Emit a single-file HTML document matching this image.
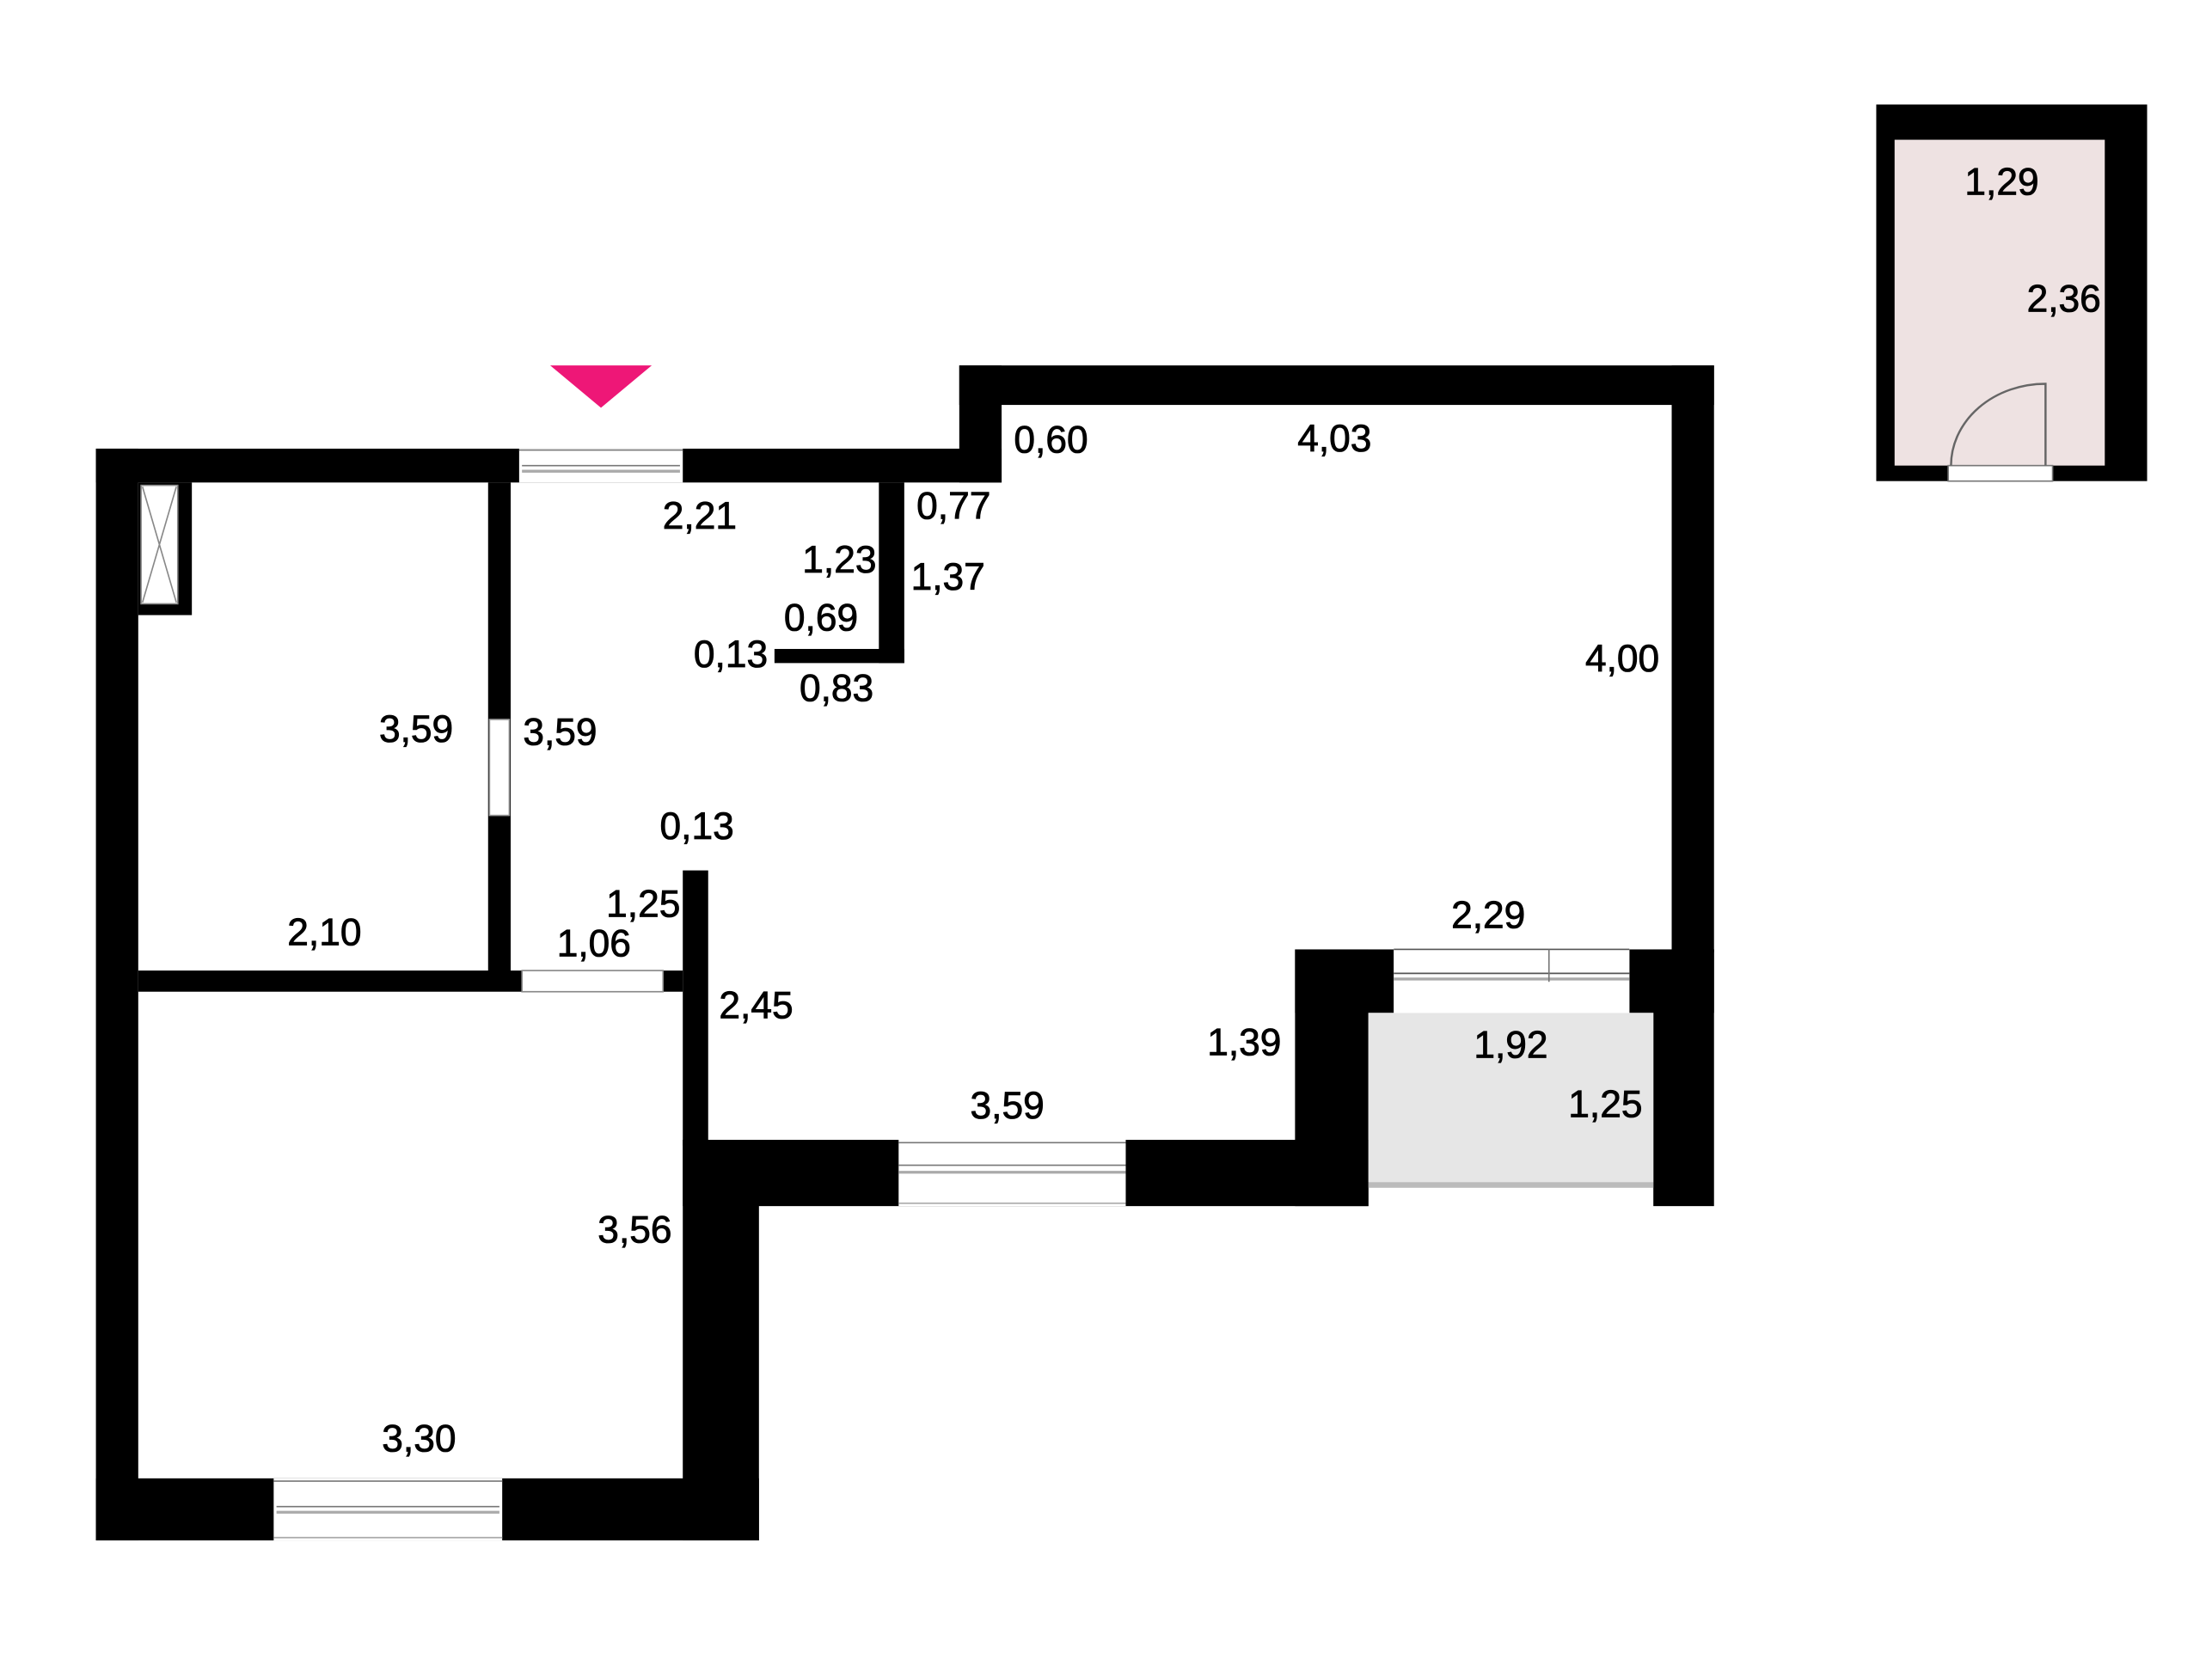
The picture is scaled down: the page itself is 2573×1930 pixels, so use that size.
<!DOCTYPE html>
<html><head><meta charset="utf-8"><style>
html,body{margin:0;padding:0;background:#fff;}
svg{display:block;}
text{font-family:"Liberation Sans",Arial,sans-serif;font-size:27px;fill:#000;stroke:#000;stroke-width:0.5px;text-anchor:middle;dominant-baseline:central;}
</style></head><body>
<svg width="2573" height="1930" viewBox="0 0 1568 1176" xmlns="http://www.w3.org/2000/svg">
<rect width="1568" height="1176" fill="#fff"/>
<rect x="1330" y="74" width="192" height="267" fill="#000"/>
<rect x="1343" y="99" width="149" height="231" fill="#eee2e2"/>
<rect x="1381" y="330" width="74" height="11" fill="#fff" stroke="#777" stroke-width="1"/>
<path d="M1383,330 A67,58 0 0 1 1450,272 L1450,330" fill="none" stroke="#666" stroke-width="1.5"/>
<polygon points="390,259 462,259 426,289" fill="#ee1777"/>
<rect x="68" y="318" width="30" height="774" fill="#000"/>
<rect x="68" y="318" width="642" height="24" fill="#000"/>
<rect x="680" y="259" width="535" height="28" fill="#000"/>
<rect x="680" y="259" width="30" height="83" fill="#000"/>
<rect x="1185" y="259" width="30" height="416" fill="#000"/>
<rect x="68" y="1048" width="470" height="44" fill="#000"/>
<rect x="484" y="808" width="54" height="284" fill="#000"/>
<rect x="484" y="808" width="486" height="47" fill="#000"/>
<rect x="918" y="673" width="52" height="182" fill="#000"/>
<rect x="918" y="673" width="70" height="45" fill="#000"/>
<rect x="1155" y="673" width="60" height="45" fill="#000"/>
<rect x="1172" y="673" width="43" height="182" fill="#000"/>
<rect x="970" y="718" width="202" height="120" fill="#e6e6e6"/>
<rect x="970" y="838" width="202" height="4" fill="#bbb"/>
<rect x="988" y="673" width="167" height="45" fill="#fff"/>
<line x1="988" y1="673" x2="1155" y2="673" stroke="#555" stroke-width="1"/>
<line x1="988" y1="690" x2="1155" y2="690" stroke="#555" stroke-width="1"/>
<line x1="988" y1="694" x2="1155" y2="694" stroke="#aaa" stroke-width="2"/>
<line x1="1098" y1="673" x2="1098" y2="696" stroke="#777" stroke-width="1"/>
<rect x="368" y="318" width="116" height="24" fill="#fff"/>
<line x1="368" y1="319" x2="484" y2="319" stroke="#777"/>
<line x1="370" y1="330" x2="482" y2="330" stroke="#777"/>
<line x1="370" y1="334" x2="482" y2="334" stroke="#aaa" stroke-width="2"/>
<rect x="637" y="808" width="161" height="47" fill="#fff"/>
<line x1="637" y1="810" x2="798" y2="810" stroke="#777"/>
<line x1="637" y1="826" x2="798" y2="826" stroke="#777"/>
<line x1="637" y1="831" x2="798" y2="831" stroke="#aaa" stroke-width="2"/>
<line x1="637" y1="853" x2="798" y2="853" stroke="#aaa"/>
<rect x="194" y="1048" width="162" height="44" fill="#fff"/>
<line x1="194" y1="1050" x2="356" y2="1050" stroke="#777"/>
<line x1="196" y1="1068" x2="354" y2="1068" stroke="#777"/>
<line x1="196" y1="1072" x2="354" y2="1072" stroke="#aaa" stroke-width="2"/>
<line x1="194" y1="1090" x2="356" y2="1090" stroke="#aaa"/>
<rect x="346" y="342" width="16" height="350" fill="#000"/>
<rect x="347" y="510" width="14" height="68" fill="#fff" stroke="#999" stroke-width="1"/>
<rect x="98" y="688" width="386" height="15" fill="#000"/>
<rect x="370" y="688" width="100" height="15" fill="#fff" stroke="#888" stroke-width="1"/>
<rect x="484" y="617" width="18" height="195" fill="#000"/>
<rect x="623" y="342" width="18" height="128" fill="#000"/>
<rect x="549" y="460" width="92" height="10" fill="#000"/>
<rect x="98" y="342" width="38" height="94" fill="#000"/>
<rect x="100" y="344" width="26" height="84" fill="#fff" stroke="#888" stroke-width="1"/>
<path d="M101,345 L125,427 M125,345 L101,427" stroke="#888" stroke-width="1"/>
<text x="1419" y="129">1,29</text>
<text x="1463" y="212">2,36</text>
<text x="745" y="312">0,60</text>
<text x="946" y="311">4,03</text>
<text x="496" y="366">2,21</text>
<text x="676" y="359">0,77</text>
<text x="595" y="397">1,23</text>
<text x="672" y="409">1,37</text>
<text x="582" y="438">0,69</text>
<text x="518" y="464">0,13</text>
<text x="593" y="488">0,83</text>
<text x="295" y="517">3,59</text>
<text x="397" y="519">3,59</text>
<text x="1150" y="467">4,00</text>
<text x="494" y="586">0,13</text>
<text x="456" y="641">1,25</text>
<text x="421" y="669">1,06</text>
<text x="230" y="661">2,10</text>
<text x="1055" y="649">2,29</text>
<text x="536" y="713">2,45</text>
<text x="882" y="739">1,39</text>
<text x="1071" y="741">1,92</text>
<text x="1138" y="783">1,25</text>
<text x="714" y="784">3,59</text>
<text x="450" y="872">3,56</text>
<text x="297" y="1020">3,30</text>
</svg>
</body></html>
